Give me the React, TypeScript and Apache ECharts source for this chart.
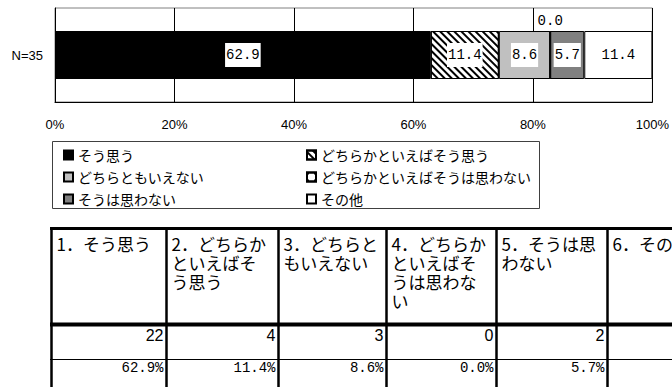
import React, { useEffect, useRef } from "react";
import * as echarts from "echarts";

// ---- data ----
const categories = [
  "そう思う",
  "どちらかといえばそう思う",
  "どちらともいえない",
  "どちらかといえばそうは思わない",
  "そうは思わない",
  "その他",
];
const rowLabels = ["N=35"];
const percents = [62.9, 11.4, 8.6, 0.0, 5.7, 11.4];
const counts = [22, 4, 3, 0, 2, 4];

// ---- styles ----
const fills = ["#000000", "#ffffff", "#c0c0c0", "#ffffff", "#808080", "#ffffff"];
const decals: any[] = [
  undefined,
  {
    symbol: "rect",
    symbolSize: 1,
    color: "#000",
    dashArrayX: [1, 0],
    dashArrayY: [1.2, 2.8],
    rotation: Math.PI / 4,
  },
  undefined,
  {
    symbol: "rect",
    symbolSize: 1,
    color: "#000",
    dashArrayX: [2, 5],
    dashArrayY: [2, 5],
    rotation: 0,
  },
  undefined,
  undefined,
];

const colBounds = [51.5, 166.5, 278.5, 386.5, 496.5, 607.5, 718];
const CJK = "'Noto Sans CJK JP', sans-serif";
const PAGE_W = 672;

function buildGraphic() {
  const g: any[] = [];
  // legend frame
  g.push({
    type: "rect",
    shape: { x: 52.5, y: 141.5, width: 487, height: 67 },
    style: { fill: "none", stroke: "#404040", lineWidth: 1 },
    silent: true,
  });
  // table horizontal lines
  g.push({
    type: "line",
    shape: { x1: 50, y1: 228.5, x2: PAGE_W, y2: 228.5 },
    style: { stroke: "#000", lineWidth: 3 },
  });
  g.push({
    type: "line",
    shape: { x1: 50, y1: 324.5, x2: PAGE_W, y2: 324.5 },
    style: { stroke: "#000", lineWidth: 4 },
  });
  g.push({
    type: "line",
    shape: { x1: 50, y1: 359.5, x2: PAGE_W, y2: 359.5 },
    style: { stroke: "#000", lineWidth: 1 },
  });
  colBounds.forEach((x) => {
    if (x > PAGE_W) return;
    g.push({
      type: "line",
      shape: { x1: x, y1: 227, x2: x, y2: 387 },
      style: { stroke: "#000", lineWidth: 2.5 },
    });
  });
  categories.forEach((c, i) => {
    const left = colBounds[i];
    const right = colBounds[i + 1];
    g.push({
      type: "text",
      x: left + 5,
      y: 234,
      style: {
        text: `${i + 1}．${c}`,
        font: `17px ${CJK}`,
        fill: "#000",
        verticalAlign: "top",
        align: "left",
        lineHeight: 19,
        width: 100,
        overflow: "break",
      },
    });
    if (right > PAGE_W) return; // value cells of this column lie outside the page
    g.push({
      type: "text",
      x: right - 3,
      y: 335,
      style: {
        text: String(counts[i]),
        font: "16px 'Liberation Sans', Arial, sans-serif",
        fill: "#000",
        align: "right",
        verticalAlign: "middle",
      },
    });
    g.push({
      type: "text",
      x: right - 3,
      y: 368,
      style: {
        text: percents[i].toFixed(1) + "%",
        font: "14px 'Liberation Mono', monospace",
        fill: "#000",
        align: "right",
        verticalAlign: "middle",
      },
    });
  });
  return g;
}

export default function App() {
  const ref = useRef<HTMLDivElement>(null);
  useEffect(() => {
    if (!ref.current) return;
    const chart = echarts.init(ref.current, null, { renderer: "svg" });
    const option: any = {
      animation: false,
      backgroundColor: "#ffffff",
      grid: {
        left: 55,
        right: 17,
        top: 8,
        height: 94,
        show: true,
        borderColor: "#808080",
        borderWidth: 1,
        backgroundColor: "transparent",
      },
      xAxis: {
        type: "value",
        min: 0,
        max: 100,
        interval: 20,
        axisLine: { show: true, lineStyle: { color: "#000", width: 1 } },
        axisTick: { show: false },
        splitLine: { show: true, lineStyle: { color: "#000", width: 1 } },
        axisLabel: {
          formatter: "{value}%",
          color: "#000",
          fontSize: 13,
          fontFamily: "'Liberation Sans', Arial, sans-serif",
          margin: 16,
        },
      },
      yAxis: {
        type: "category",
        data: rowLabels,
        axisLine: { show: true, lineStyle: { color: "#000", width: 1 } },
        axisTick: { show: false },
        axisLabel: {
          color: "#000",
          fontSize: 13,
          fontFamily: "'Liberation Sans', Arial, sans-serif",
          margin: 12,
        },
      },
      legend: categories.map((name, i) => ({
        data: [name],
        left: i % 2 === 0 ? 63 : 306,
        top: 147 + Math.floor(i / 2) * 22,
        orient: "horizontal",
        padding: 0,
        itemWidth: 9,
        itemHeight: 9,
        itemGap: 0,
        icon: "rect",
        selectedMode: false,
        textStyle: { fontSize: 14, fontFamily: CJK, color: "#000", lineHeight: 16 },
      })),
      series: categories.map((name, i) => ({
        type: "bar",
        name,
        stack: "total",
        barWidth: 48,
        data: [percents[i]],
        itemStyle: {
          color: fills[i],
          borderColor: "#000",
          borderWidth: 1,
          decal: decals[i],
        },
        label:
          percents[i] === 0
            ? {
                show: true,
                position: "top",
                distance: 3,
                formatter: (p: any) => Number(p.value).toFixed(1),
                fontFamily: "'Liberation Mono', monospace",
                fontSize: 14,
                color: "#000",
              }
            : {
                show: true,
                position: "inside",
                formatter: (p: any) => Number(p.value).toFixed(1),
                fontFamily: "'Liberation Mono', monospace",
                fontSize: 14,
                lineHeight: 14,
                color: "#000",
                backgroundColor: "#ffffff",
                padding: [5, 1],
              },
      })),
      graphic: buildGraphic(),
    };
    chart.setOption(option);
    return () => chart.dispose();
  }, []);
  return (
    <div
      ref={ref}
      style={{ position: "fixed", left: 0, top: 0, width: 672, height: 387 }}
    />
  );
}
